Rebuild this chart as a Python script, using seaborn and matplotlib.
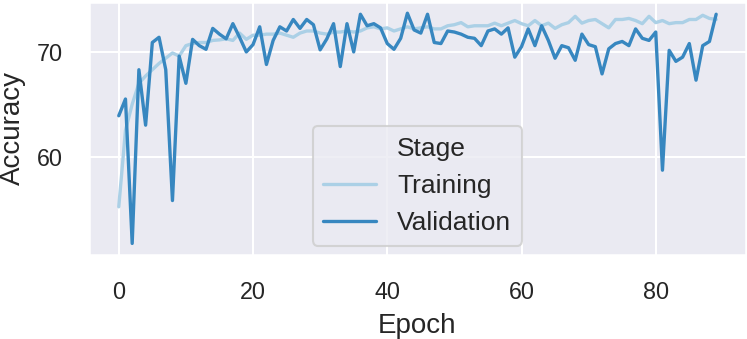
import seaborn as sns
import matplotlib.pyplot as plt
import matplotlib.lines as mlines
import pandas as pd

# ---------------------------
# Data
# ---------------------------
epochs = list(range(90))
stages = ["Training", "Validation"]

training = [
    55.2, 62.5, 65.0, 67.0, 67.7, 68.3, 68.9, 69.4, 69.9, 69.6,
    70.6, 70.8, 70.9, 70.9, 71.1, 71.15, 71.25, 71.1, 71.8, 71.2,
    71.6, 71.6, 71.7, 71.7, 71.8, 71.6, 71.4, 71.8, 72.0, 72.0,
    71.8, 71.7, 71.9, 71.9, 72.0, 71.9, 72.0, 72.3, 72.4, 72.2,
    72.3, 72.0, 72.2, 72.4, 72.2, 72.3, 72.4, 72.2, 72.2, 72.5,
    72.6, 72.8, 72.4, 72.5, 72.5, 72.5, 72.75, 72.5, 72.75, 73.0,
    72.7, 72.5, 73.0, 72.5, 72.75, 72.25, 72.6, 72.8, 73.4, 72.75,
    73.0, 73.1, 72.7, 72.3, 73.1, 73.1, 73.2, 73.0, 72.7, 73.4,
    72.8, 73.0, 72.7, 72.8, 72.8, 73.1, 73.1, 73.5, 73.2, 73.1,
]

validation = [
    63.9, 65.5, 51.7, 68.3, 63.0, 70.9, 71.4, 68.3, 55.8, 69.6,
    67.0, 71.2, 70.6, 70.25, 72.25, 71.7, 71.25, 72.7, 71.4, 70.0,
    70.7, 72.4, 68.8, 71.1, 72.4, 72.0, 73.1, 72.25, 73.1, 72.6,
    70.2, 71.25, 72.7, 68.6, 72.7, 70.0, 73.6, 72.5, 72.7, 72.3,
    70.8, 70.25, 71.3, 73.7, 72.1, 71.8, 73.6, 70.9, 70.8, 72.0,
    71.9, 71.7, 71.4, 71.3, 70.6, 72.0, 72.2, 71.7, 72.3, 69.5,
    70.5, 72.2, 70.6, 72.5, 71.1, 69.4, 70.6, 70.4, 69.2, 71.7,
    70.7, 70.5, 67.9, 70.3, 70.8, 71.0, 70.6, 72.2, 71.3, 71.1,
    71.9, 58.7, 70.15, 69.1, 69.5, 70.8, 67.3, 70.6, 71.0, 73.6,
]

df = pd.DataFrame({
    "Epoch": epochs * 2,
    "Accuracy": training + validation,
    "Stage": [stages[0]] * len(training) + [stages[1]] * len(validation),
})

# ---------------------------
# Styling
# ---------------------------
sns.set_theme(style="darkgrid", context="talk")
plt.rcParams["font.family"] = ["Liberation Sans", "DejaVu Sans"]

fig, ax = plt.subplots(figsize=(7.47, 3.39), dpi=100)
fig.subplots_adjust(left=0.119, right=0.9987, top=0.995, bottom=0.248)

sns.lineplot(
    data=df, x="Epoch", y="Accuracy", hue="Stage",
    hue_order=stages, palette="Blues", linewidth=2.4, ax=ax,
)

ax.set_xticks([0, 20, 40, 60, 80])
ax.set_yticks([60, 70])
ax.tick_params(axis="both", labelsize=16.8, pad=18.5, length=0)
ax.set_xlabel("Epoch", fontsize=20, labelpad=6.5)
ax.set_ylabel("Accuracy", fontsize=20, labelpad=8)

# old-style seaborn legend: hue name as first, handle-less entry
handles, labels = ax.get_legend_handles_labels()
title_handle = mlines.Line2D([], [], color="none")
ax.legend([title_handle] + handles, ["Stage"] + labels,
          loc="lower center", fontsize=19, borderaxespad=0.35)

plt.savefig("out.png", dpi=100)
plt.close()
